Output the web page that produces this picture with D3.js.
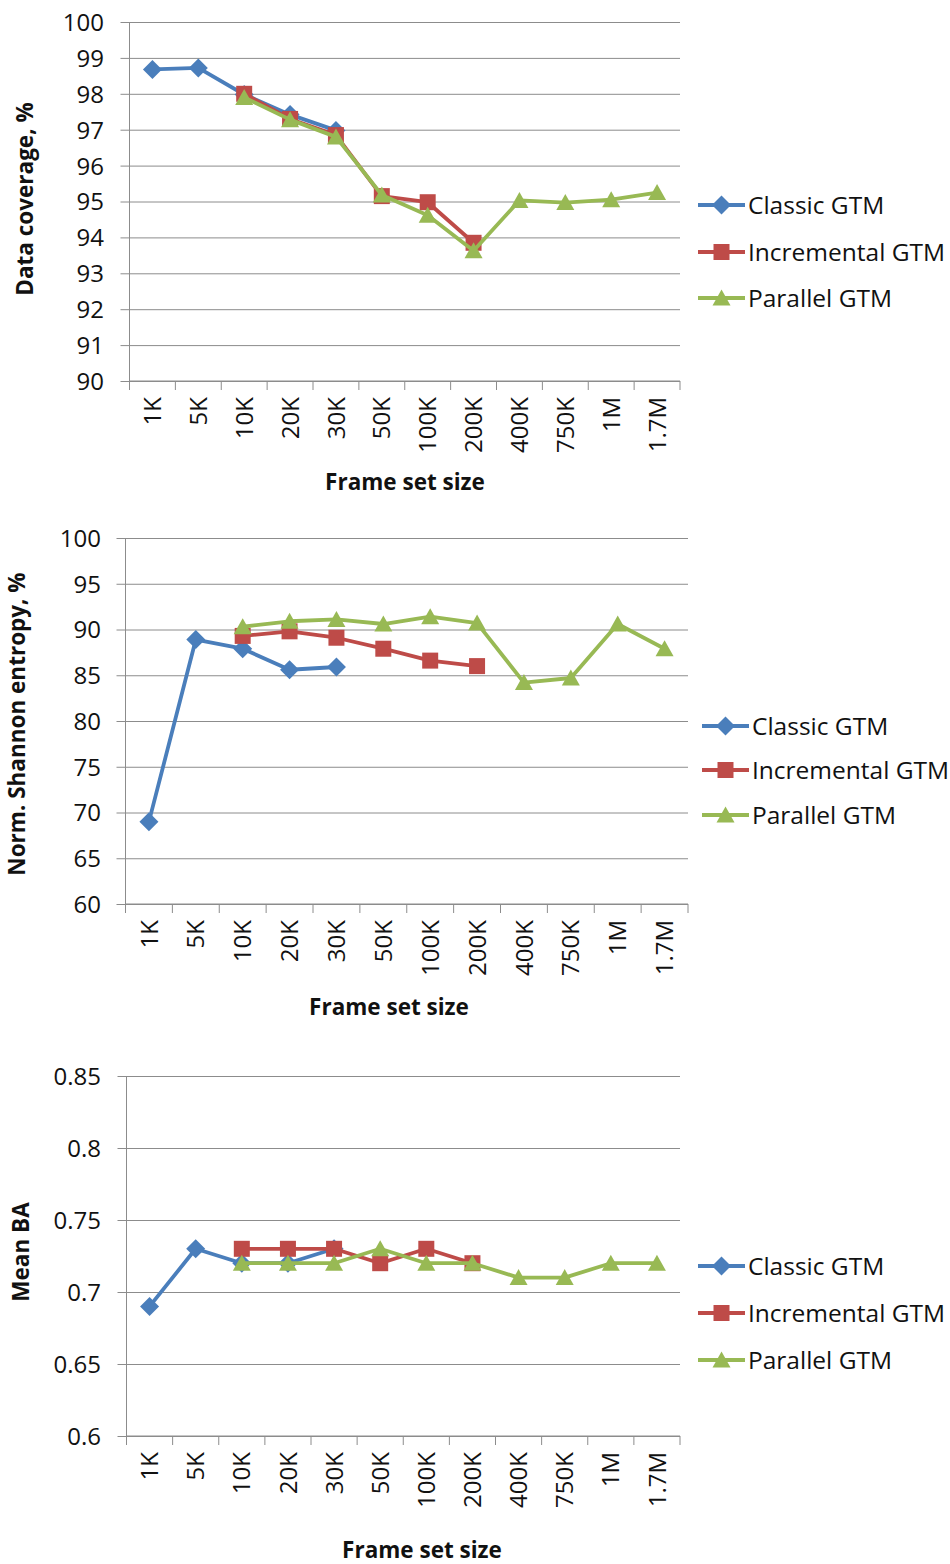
<!DOCTYPE html>
<html>
<head>
<meta charset="utf-8">
<script src="https://cdn.jsdelivr.net/npm/d3@7"></script>
<style>
  html, body { margin: 0; padding: 0; background: #fff; }
  svg { display: block; font-family: "Open Sans", "Noto Sans", sans-serif; }
</style>
</head>
<body>
<svg id="chart" width="950" height="1564"></svg>
<script>
// Frame set sizes shared by all three panels
const categories = ["1K", "5K", "10K", "20K", "30K", "50K", "100K", "200K", "400K", "750K", "1M", "1.7M"];
const seriesNames = ["Classic GTM", "Incremental GTM", "Parallel GTM"];

// Data coverage, %
const coverageClassic     = [98.68, 98.72, 97.98, 97.42, 96.98, null, null, null, null, null, null, null];
const coverageIncremental = [null, null, 98.0, 97.3, 96.85, 95.15, 94.98, 93.85, null, null, null, null];
const coverageParallel    = [null, null, 97.9, 97.28, 96.8, 95.18, 94.62, 93.63, 95.03, 94.97, 95.05, 95.25];
const coverageTicks = [90, 91, 92, 93, 94, 95, 96, 97, 98, 99, 100];

// Normalised Shannon entropy, %
const entropyClassic     = [69.0, 88.9, 87.9, 85.6, 85.9, null, null, null, null, null, null, null];
const entropyIncremental = [null, null, 89.3, 89.8, 89.1, 87.9, 86.6, 86.0, null, null, null, null];
const entropyParallel    = [null, null, 90.3, 90.9, 91.1, 90.6, 91.4, 90.7, 84.2, 84.7, 90.6, 87.9];
const entropyTicks = [60, 65, 70, 75, 80, 85, 90, 95, 100];

// Mean balanced accuracy
const baClassic     = [0.69, 0.73, 0.72, 0.72, 0.73, null, null, null, null, null, null, null];
const baIncremental = [null, null, 0.73, 0.73, 0.73, 0.72, 0.73, 0.72, null, null, null, null];
const baParallel    = [null, null, 0.72, 0.72, 0.72, 0.73, 0.72, 0.72, 0.71, 0.71, 0.72, 0.72];
const baTicks = [0.6, 0.65, 0.7, 0.75, 0.8, 0.85];

const colors = ["#4A7EBB", "#BE4B48", "#98B954"];
const markerTypes = ["diamond", "square", "triangle"];
const gridColor = "#8c8c8c";
const textColor = "#111";

const svg = d3.select("#chart");

function markerPath(type) {
  if (type === "diamond") return "M0,-9.5L9.5,0L0,9.5L-9.5,0Z";
  if (type === "square") return "M-8,-8H8V8H-8Z";
  return "M0,-8.5L9,7.5L-9,7.5Z";
}

function drawPanel(cfg) {
  const g = svg.append("g");
  const x = d3.scaleBand().domain(categories).range([cfg.left, cfg.right]).padding(0);
  const y = d3.scaleLinear().domain(cfg.domain).range([cfg.bottom, cfg.top]);

  // horizontal gridlines with outside ticks on the value axis
  const yAxis = d3.axisLeft(y).tickValues(cfg.ticks).tickSize(0).tickFormat(d => cfg.fmt(d));
  const ya = g.append("g").attr("transform", `translate(${cfg.left},0)`).call(yAxis);
  ya.select(".domain").remove();
  ya.selectAll(".tick line").remove();
  ya.selectAll(".tick text")
    .attr("x", -(cfg.left - cfg.labelRight))
    .attr("dy", "0.35em")
    .attr("fill", textColor)
    .style("font-size", "24px")
    .style("font-family", "'Open Sans', sans-serif");
  ya.selectAll(".tick").append("line")
    .attr("x1", -9).attr("x2", cfg.right - cfg.left)
    .attr("stroke", gridColor).attr("stroke-width", 1);

  // category axis: boundary tick marks and rotated labels
  const xa = g.append("g").attr("transform", `translate(0,${cfg.bottom})`);
  xa.append("line").attr("x1", cfg.left).attr("x2", cfg.right)
    .attr("stroke", gridColor).attr("stroke-width", 1);
  const bounds = categories.map(c => x(c)).concat([cfg.right]);
  xa.selectAll("line.bound").data(bounds).join("line")
    .attr("class", "bound")
    .attr("x1", d => d).attr("x2", d => d)
    .attr("y1", 0).attr("y2", 9)
    .attr("stroke", gridColor).attr("stroke-width", 1);
  xa.selectAll("text.cat").data(categories).join("text")
    .attr("class", "cat")
    .attr("transform", d => `translate(${x(d) + x.bandwidth() / 2},16) rotate(-90)`)
    .attr("text-anchor", "end")
    .attr("dy", "0.36em")
    .attr("fill", textColor)
    .style("font-size", "24px")
    .text(d => d);

  // vertical axis line
  g.append("line")
    .attr("x1", cfg.left).attr("x2", cfg.left)
    .attr("y1", cfg.top).attr("y2", cfg.bottom + 9)
    .attr("stroke", gridColor).attr("stroke-width", 1);

  // series lines and markers
  const line = d3.line()
    .defined(d => d.v != null)
    .x(d => x(d.c) + x.bandwidth() / 2)
    .y(d => y(d.v));

  cfg.series.forEach((vals, i) => {
    const pts = categories.map((c, j) => ({ c, v: vals[j] }));
    g.append("path")
      .datum(pts)
      .attr("d", line)
      .attr("fill", "none")
      .attr("stroke", colors[i])
      .attr("stroke-width", 3.8)
      .attr("stroke-linejoin", "round");
    g.selectAll(null).data(pts.filter(d => d.v != null)).join("path")
      .attr("transform", d => `translate(${x(d.c) + x.bandwidth() / 2},${y(d.v)})`)
      .attr("d", markerPath(markerTypes[i]))
      .attr("fill", colors[i]);
  });

  // axis titles
  g.append("text")
    .attr("transform", `translate(${cfg.yTitleX},${cfg.yTitleY}) rotate(-90)`)
    .attr("text-anchor", "middle")
    .attr("fill", textColor)
    .style("font-size", "22.5px").style("font-weight", "bold")
    .text(cfg.yTitle);
  g.append("text")
    .attr("x", cfg.xTitleX).attr("y", cfg.xTitleY)
    .attr("text-anchor", "middle")
    .attr("fill", textColor)
    .style("font-size", "22.5px").style("font-weight", "bold")
    .text("Frame set size");

  // legend
  const lg = g.append("g");
  seriesNames.forEach((name, i) => {
    const ly = cfg.legendY[i];
    lg.append("line")
      .attr("x1", cfg.legendX).attr("x2", cfg.legendX + 47)
      .attr("y1", ly).attr("y2", ly)
      .attr("stroke", colors[i]).attr("stroke-width", 3.8);
    lg.append("path")
      .attr("transform", `translate(${cfg.legendX + 23.5},${ly})`)
      .attr("d", markerPath(markerTypes[i]))
      .attr("fill", colors[i]);
    lg.append("text")
      .attr("x", cfg.legendX + 50).attr("y", ly)
      .attr("dy", "0.35em")
      .attr("fill", textColor)
      .style("font-size", "24.5px")
      .text(name);
  });
}

drawPanel({
  left: 129.5, right: 680, top: 22, bottom: 381, labelRight: 104,
  domain: [90, 100], ticks: coverageTicks, fmt: d => String(d),
  series: [coverageClassic, coverageIncremental, coverageParallel],
  yTitle: "Data coverage, %", yTitleX: 33, yTitleY: 199,
  xTitleX: 405, xTitleY: 490,
  legendX: 698, legendY: [205, 252, 298]
});

drawPanel({
  left: 125.5, right: 688, top: 538, bottom: 904, labelRight: 101,
  domain: [60, 100], ticks: entropyTicks, fmt: d => String(d),
  series: [entropyClassic, entropyIncremental, entropyParallel],
  yTitle: "Norm. Shannon entropy, %", yTitleX: 25, yTitleY: 724,
  xTitleX: 389, xTitleY: 1015,
  legendX: 702, legendY: [726, 770, 815]
});

drawPanel({
  left: 126.5, right: 680, top: 1076, bottom: 1436, labelRight: 101,
  domain: [0.6, 0.85], ticks: baTicks, fmt: d => String(d),
  series: [baClassic, baIncremental, baParallel],
  yTitle: "Mean BA", yTitleX: 29, yTitleY: 1252,
  xTitleX: 422, xTitleY: 1558,
  legendX: 698, legendY: [1266, 1313, 1360]
});
</script>
</body>
</html>
